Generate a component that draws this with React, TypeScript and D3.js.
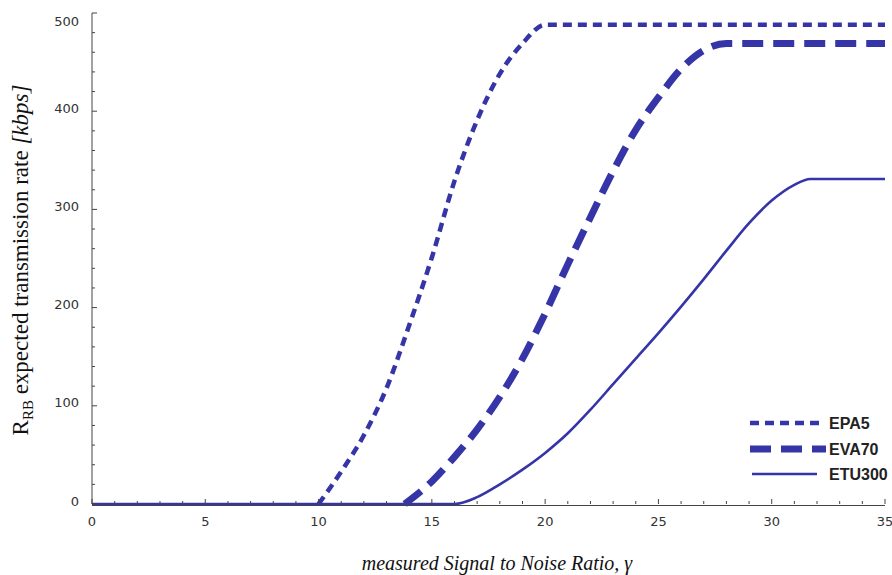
import React from "react";
import * as d3 from "d3";

const xTicks = [0, 5, 10, 15, 20, 25, 30, 35];
const yTicks = [0, 100, 200, 300, 400, 500];

const epa5X = [10, 11, 12, 13, 14, 15, 16, 17, 18, 19, 20, 35];
const epa5Y = [0, 33, 70, 118, 182, 251, 329, 391, 438, 469, 488, 488];

const eva70X = [13.8, 15, 16, 17, 18, 19, 20, 21, 22, 23, 24, 25, 26, 27, 28, 35];
const eva70Y = [0, 23, 48, 76, 109, 148, 194, 244, 292, 339, 381, 414, 443, 462, 469, 469];

const etu300X = [0, 16, 17, 18, 19, 20, 21, 22, 23, 24, 25, 26, 27, 28, 29, 30, 31, 31.7, 35];
const etu300Y = [0, 0, 7, 20, 35, 52, 72, 96, 122, 148, 174, 201, 229, 258, 286, 309, 325, 331, 331];

const seriesNames = ["EPA5", "EVA70", "ETU300"];

const W = 892;
const H = 575;
const COLOR = "#3535a8";

export default function App() {
  const x = d3.scaleLinear().domain([0, 35]).range([92, 885]);
  const y = d3.scaleLinear().domain([0, 500]).range([504, 13]);
  const line = d3
    .line<[number, number]>()
    .x((d) => x(d[0]))
    .y((d) => y(d[1]))
    .curve(d3.curveMonotoneX);

  const series = [
    { name: seriesNames[0], xs: epa5X, ys: epa5Y, width: 4.5, dash: "9 6" },
    { name: seriesNames[1], xs: eva70X, ys: eva70Y, width: 7, dash: "21 10" },
    { name: seriesNames[2], xs: etu300X, ys: etu300Y, width: 2.6, dash: "none" },
  ];

  const xMinor = d3.range(0, 36, 1);
  const yMinor = d3.range(0, 501, 20);

  const legendY = [423, 449, 474];
  const legendX1 = [750, 750, 752];
  const legendX2 = [823, 826, 817];

  return (
    <svg
      width={W}
      height={H}
      style={{ position: "absolute", left: 0, top: 0, background: "#fff" }}
    >
      {series.map((s) => (
        <path
          key={s.name}
          d={line(s.xs.map((v, i) => [v, s.ys[i]] as [number, number])) || ""}
          fill="none"
          stroke={COLOR}
          strokeWidth={s.width}
          strokeDasharray={s.dash}
        />
      ))}

      {/* axes */}
      <g stroke="#444" strokeWidth={1}>
        <line x1={x(0)} x2={x(35)} y1={y(0) + 1.5} y2={y(0) + 1.5} />
        <line x1={x(0)} x2={x(0)} y1={y(0)} y2={y(500)} />
        {xMinor.map((v) => (
          <line
            key={"xm" + v}
            x1={x(v)}
            x2={x(v)}
            y1={y(0)}
            y2={y(0) - (v % 5 === 0 ? 5 : 3)}
          />
        ))}
        {yMinor.map((v) => (
          <line
            key={"ym" + v}
            x1={x(0)}
            x2={x(0) + (v % 100 === 0 ? 5 : 3)}
            y1={y(v)}
            y2={y(v)}
          />
        ))}
      </g>

      <g fontFamily="DejaVu Sans, sans-serif" fontSize={13} fill="#333">
        {xTicks.map((v) => (
          <text key={"xt" + v} x={x(v)} y={521} textAnchor="middle" dominantBaseline="central">
            {v}
          </text>
        ))}
        {yTicks.map((v) => (
          <text
            key={"yt" + v}
            x={79}
            y={Math.max(y(v) - 3, 21)}
            textAnchor="end"
            dominantBaseline="central"
          >
            {v}
          </text>
        ))}
      </g>

      {/* y title */}
      <text
        transform="translate(28,260) rotate(-90)"
        textAnchor="middle"
        fontFamily="Liberation Serif, Times New Roman, serif"
        fontSize={23}
        fill="#111"
      >
        <tspan>R</tspan>
        <tspan fontSize={15} dy={5}>RB</tspan>
        <tspan dy={-5}> expected transmission rate  </tspan>
        <tspan fontStyle="italic">[kbps]</tspan>
      </text>

      {/* x title */}
      <text
        x={497}
        y={563}
        textAnchor="middle"
        dominantBaseline="central"
        fontFamily="Liberation Serif, Times New Roman, serif"
        fontStyle="italic"
        fontSize={20}
        fill="#111"
      >
        measured Signal to Noise Ratio, γ
      </text>

      {/* legend */}
      {series.map((s, i) => (
        <g key={"lg" + s.name}>
          <line
            x1={legendX1[i]}
            x2={legendX2[i]}
            y1={legendY[i]}
            y2={legendY[i]}
            stroke={COLOR}
            strokeWidth={s.width}
            strokeDasharray={s.dash}
          />
          <text
            x={829}
            y={legendY[i]}
            dominantBaseline="central"
            fontFamily="Liberation Sans, Arial, sans-serif"
            fontWeight="bold"
            fontSize={16}
            fill="#222"
          >
            {s.name}
          </text>
        </g>
      ))}
    </svg>
  );
}
